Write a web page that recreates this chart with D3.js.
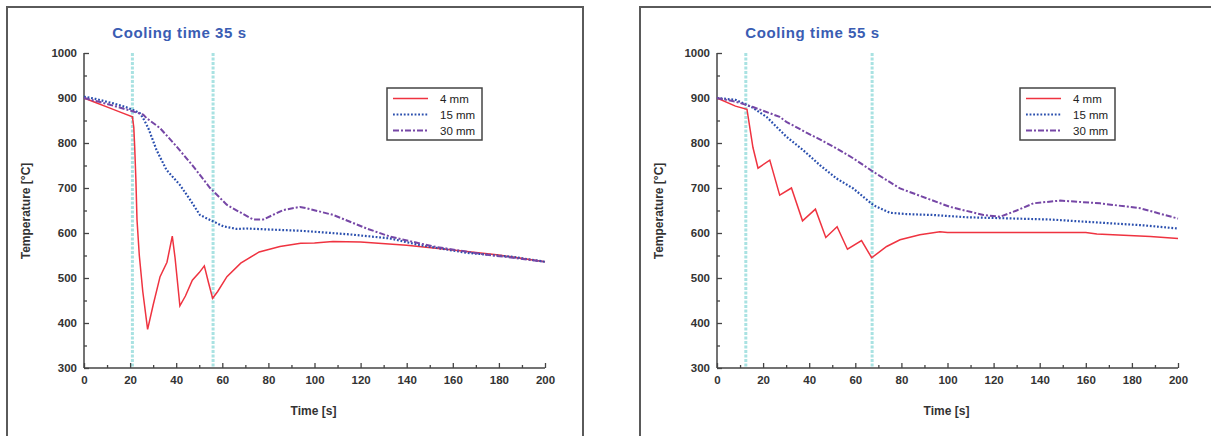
<!DOCTYPE html>
<html>
<head>
<meta charset="utf-8">
<script src="https://cdn.jsdelivr.net/npm/d3@7"></script>
<style>
  body { margin: 0; background: #fff; }
  svg { display: block; font-family: "Liberation Sans", Arial, sans-serif; }
</style>
</head>
<body>
<svg id="chart" width="1211" height="436"></svg>
<script>
// cooling time 35 s
const timeRed35 = [0, 5, 11, 16, 21, 21.6, 22, 22.5, 23, 24, 25.5, 27.6, 30, 33, 36, 38.3, 39.5, 41.6, 44, 47, 50, 52.2, 54, 55.8, 58, 62, 68, 76, 85, 94, 100, 108, 120, 140, 160, 180, 200];
const tempRed35 = [900, 890, 878, 868, 858, 835, 790, 720, 629, 550, 470, 386, 440, 503, 535, 593, 545, 438, 460, 495, 512, 527, 490, 455, 470, 503, 533, 558, 570, 577, 578, 581, 580, 573, 562, 551, 536];
const timeBlue35 = [0, 5, 12.7, 18, 22, 24.3, 26, 27.9, 31.5, 35.8, 41.6, 46, 50.3, 54.7, 60.4, 66.2, 70.6, 79.2, 93.7, 99.5, 115, 132.7, 145.8, 166, 186, 200];
const tempBlue35 = [903, 898, 888, 880, 872, 866, 852, 833, 784, 740, 707, 674, 640, 629, 615, 609, 610, 608, 605, 603, 597, 588, 573, 556, 547, 536];
const timePurple35 = [0, 7, 14, 21.4, 25.7, 27.2, 33, 40.2, 47.4, 54.7, 61.9, 67, 73.4, 77.8, 86.4, 93.7, 96.6, 108.2, 122.6, 132.8, 151.6, 173, 200];
const tempPurple35 = [900, 891, 881, 870, 863, 855, 833, 792, 748, 700, 663, 648, 630, 630, 651, 658, 655, 640, 610, 592, 570, 553, 536];
const marks35 = [21, 56];

// cooling time 55 s
const timeRed55 = [0, 8, 13, 15.6, 17.8, 22.9, 27.2, 32.3, 37.1, 42.7, 47.2, 52.1, 56.6, 62.7, 67.1, 73.6, 79.4, 88, 96.7, 100, 130, 160, 164.8, 188, 200];
const tempRed55 = [900, 882, 875, 790, 744, 762, 684, 700, 627, 653, 590, 614, 564, 583, 545, 570, 585, 596, 603, 601, 601, 601, 598, 592, 588];
const timeBlue55 = [0, 8, 15, 21.5, 30.1, 37.4, 44.6, 51.9, 59.1, 67.8, 75, 82.3, 93.8, 108.3, 122.8, 144.5, 166.2, 185, 200];
const tempBlue55 = [900, 896, 880, 858, 814, 784, 751, 721, 699, 662, 645, 642, 640, 635, 633, 630, 623, 617, 610];
const timePurple55 = [0, 8, 15.6, 27.2, 30.1, 38.8, 44.6, 51.9, 59.1, 67.8, 79.4, 101.1, 115.6, 122.8, 130, 137.3, 148.9, 166.2, 183.6, 200];
const tempPurple55 = [900, 892, 880, 858, 847, 823, 808, 788, 766, 736, 699, 658, 640, 636, 650, 666, 672, 666, 655, 632];
const marks55 = [12.5, 67.3];

const seriesNames = ["4 mm", "15 mm", "30 mm"];
const xTicks = [0, 20, 40, 60, 80, 100, 120, 140, 160, 180, 200];
const yTicks = [300, 400, 500, 600, 700, 800, 900, 1000];

const styles = [
  { color: "#ef3340", width: 1.5, dash: null },
  { color: "#2a4fae", width: 2.2, dash: "1.8,1.8" },
  { color: "#7647a6", width: 2, dash: "6,2,2,2" }
];

const svg = d3.select("#chart");

const panels = [
  {
    title: "Cooling time 35 s", frameX: 7, frameW: 576, left: 84, right: 545,
    series: [[timeRed35, tempRed35], [timeBlue35, tempBlue35], [timePurple35, tempPurple35]],
    marks: marks35, labelX: 30, legendX: 387
  },
  {
    title: "Cooling time 55 s", frameX: 640, frameW: 590, left: 717, right: 1178,
    series: [[timeRed55, tempRed55], [timeBlue55, tempBlue55], [timePurple55, tempPurple55]],
    marks: marks55, labelX: 663, legendX: 1020
  }
];

panels.forEach(p => {
  const g = svg.append("g");
  const top = 53, bottom = 368;

  g.append("rect")
    .attr("x", p.frameX).attr("y", 7)
    .attr("width", p.frameW).attr("height", 460)
    .attr("fill", "none").attr("stroke", "#5a5a5a").attr("stroke-width", 2);

  const x = d3.scaleLinear().domain([0, 200]).range([p.left, p.right]);
  const y = d3.scaleLinear().domain([300, 1000]).range([bottom, top]);

  // cooling interval markers
  g.selectAll(".mark").data(p.marks).join("line")
    .attr("x1", d => x(d)).attr("x2", d => x(d))
    .attr("y1", top).attr("y2", bottom)
    .attr("stroke", "#a9e2e2").attr("stroke-width", 3)
    .attr("stroke-dasharray", "3,1.5");

  // axes
  const xAxis = g.append("g").attr("transform", `translate(0,${bottom})`)
    .call(d3.axisBottom(x).tickValues(d3.range(0, 201, 10)).tickSize(-5).tickPadding(8)
      .tickFormat(d => xTicks.includes(d) ? d : ""));
  xAxis.selectAll(".tick line").attr("y2", d => xTicks.includes(d) ? -5 : -3);

  const yAxis = g.append("g").attr("transform", `translate(${p.left},0)`)
    .call(d3.axisLeft(y).tickValues(d3.range(300, 1001, 50)).tickSize(-5).tickPadding(7)
      .tickFormat(d => yTicks.includes(d) ? d : ""));
  yAxis.selectAll(".tick line").attr("x2", d => yTicks.includes(d) ? 5 : 3);

  [xAxis, yAxis].forEach(a => {
    a.select(".domain").attr("stroke", "#444").attr("stroke-width", 1.5);
    a.selectAll(".tick line").attr("stroke", "#444").attr("stroke-width", 1.3);
    a.selectAll("text").attr("fill", "#333").attr("font-size", 11.5)
      .attr("font-weight", "bold").attr("font-family", "Liberation Sans, Arial, sans-serif");
  });
  xAxis.select(".domain").attr("d", `M${p.left},0H${p.right}`);
  yAxis.select(".domain").attr("d", `M0,${bottom}V${top}`);

  // curves
  const line = d3.line().x(d => x(d[0])).y(d => y(d[1]));
  p.series.forEach((s, i) => {
    const pts = s[0].map((t, k) => [t, s[1][k]]);
    g.append("path").datum(pts)
      .attr("d", line)
      .attr("fill", "none")
      .attr("stroke", styles[i].color)
      .attr("stroke-width", styles[i].width)
      .attr("stroke-dasharray", styles[i].dash);
  });

  // title and axis labels
  g.append("text").text(p.title)
    .attr("x", (p.left + p.right) / 2 - 135).attr("y", 38)
    .attr("text-anchor", "middle").attr("font-size", 15).attr("font-weight", "bold")
    .attr("letter-spacing", 0.6).attr("fill", "#3a5db3");

  g.append("text").text("Time [s]")
    .attr("x", (p.left + p.right) / 2 - 1).attr("y", 415)
    .attr("text-anchor", "middle").attr("font-size", 12).attr("font-weight", "bold")
    .attr("fill", "#333");

  g.append("text").text("Temperature [°C]")
    .attr("transform", `translate(${p.labelX},211) rotate(-90)`)
    .attr("text-anchor", "middle").attr("font-size", 12).attr("font-weight", "bold")
    .attr("fill", "#333");

  // legend
  const lg = g.append("g").attr("transform", `translate(${p.legendX},88)`);
  lg.append("rect").attr("width", 95).attr("height", 52)
    .attr("fill", "#fff").attr("stroke", "#444").attr("stroke-width", 1.5);
  seriesNames.forEach((name, i) => {
    const ly = 10.5 + i * 16;
    lg.append("line").attr("x1", 6).attr("x2", 41).attr("y1", ly).attr("y2", ly)
      .attr("stroke", styles[i].color).attr("stroke-width", styles[i].width)
      .attr("stroke-dasharray", styles[i].dash);
    lg.append("text").text(name)
      .attr("x", 53).attr("y", ly + 4)
      .attr("font-size", 11.5).attr("fill", "#222");
  });
});
</script>
</body>
</html>
